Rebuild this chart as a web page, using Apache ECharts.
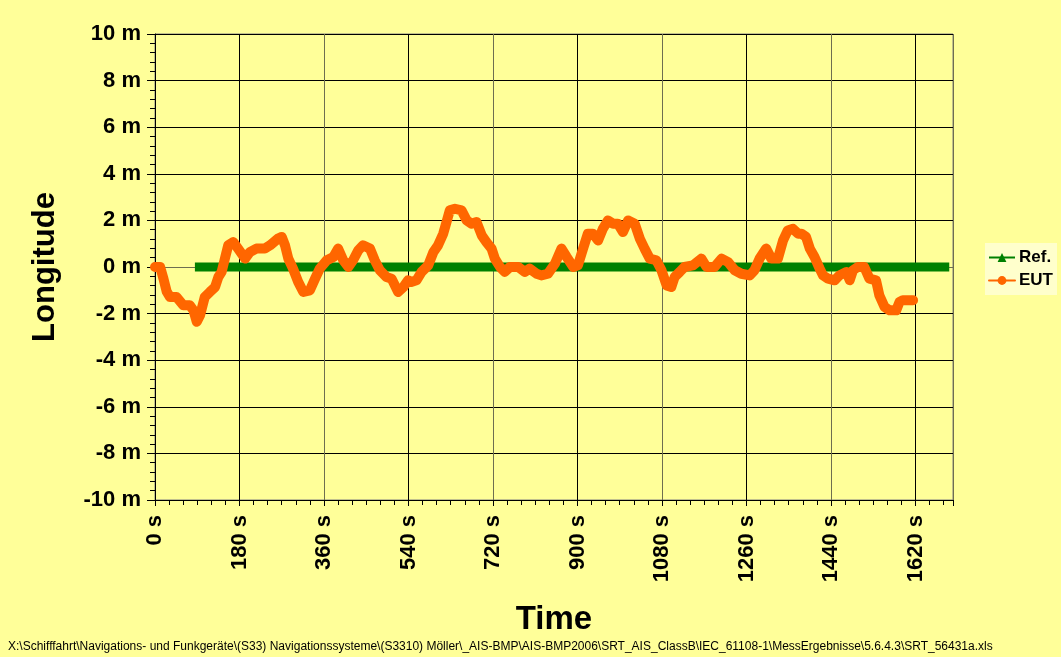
<!DOCTYPE html>
<html>
<head>
<meta charset="utf-8">
<script src="https://cdn.jsdelivr.net/npm/echarts@6/dist/echarts.min.js"></script>
<style>
  html, body { margin: 0; padding: 0; background: #FFFF99; }
  #chart { width: 1061px; height: 657px; }
</style>
</head>
<body>
<div id="chart"></div>
<script>
// Zeitachse in s, Abweichung in m
var refTimes = [85, 1692];
var refValues = [0, 0];

var eutTimes = [0, 11, 18, 25, 32, 46, 60, 74, 82, 89, 96, 106, 117, 128, 135, 142, 149, 156, 167, 177,
  192, 202, 216, 234, 245, 262, 270, 277, 284, 294, 305, 316, 330, 341, 351, 366, 380, 390, 401, 412,
  422, 433, 443, 458, 468, 479, 493, 504, 518, 529, 539, 546, 557, 568, 582, 593, 603, 614, 621, 628,
  639, 653, 664, 674, 685, 696, 706, 717, 724, 735, 745, 756, 774, 788, 798, 813, 823, 837, 852, 866,
  877, 891, 901, 912, 922, 933, 944, 954, 965, 976, 986, 997, 1008, 1022, 1033, 1043, 1054, 1068, 1079, 1090,
  1100, 1107, 1118, 1128, 1146, 1164, 1175, 1192, 1207, 1221, 1235, 1249, 1267, 1277, 1288, 1302, 1313, 1327, 1338, 1348,
  1359, 1370, 1377, 1387, 1395, 1405, 1416, 1423, 1434, 1448, 1458, 1473, 1480, 1487, 1497, 1511, 1522, 1536, 1543, 1554,
  1565, 1579, 1586, 1593, 1615];
var eutValues = [0, 0, -0.5, -1.06, -1.29, -1.29, -1.64, -1.64, -1.86, -2.35, -2.07, -1.29, -1.07, -0.86, -0.43, -0.21, 0.37, 0.93, 1.07, 0.79,
  0.36, 0.64, 0.79, 0.79, 0.93, 1.22, 1.29, 0.93, 0.36, -0.07, -0.64, -1.07, -1.0, -0.5, -0.07, 0.29, 0.43, 0.79, 0.29, 0,
  0.29, 0.71, 0.93, 0.79, 0.29, -0.14, -0.43, -0.5, -1.07, -0.86, -0.57, -0.64, -0.57, -0.21, 0.07, 0.64, 0.93, 1.43, 1.93, 2.43,
  2.5, 2.43, 2.0, 1.86, 1.93, 1.36, 1.07, 0.79, 0.36, 0, -0.21, 0, 0, -0.21, -0.07, -0.29, -0.36, -0.29, 0.14, 0.79,
  0.43, 0, 0.07, 0.79, 1.43, 1.43, 1.14, 1.64, 2.0, 1.86, 1.86, 1.5, 2.0, 1.86, 1.21, 0.79, 0.36, 0.29, -0.14, -0.79,
  -0.86, -0.43, -0.21, 0, 0.07, 0.36, 0, 0, 0.36, 0.21, -0.14, -0.29, -0.36, -0.14, 0.36, 0.79, 0.36, 0.36, 1.14, 1.57,
  1.64, 1.43, 1.43, 1.29, 0.79, 0.43, -0.07, -0.36, -0.5, -0.57, -0.36, -0.21, -0.57, -0.14, 0, 0, -0.5, -0.57, -1.21, -1.71,
  -1.86, -1.86, -1.5, -1.43, -1.43];

var yTicks = [-10, -8, -6, -4, -2, 0, 2, 4, 6, 8, 10];
var filePath = 'X:\\Schifffahrt\\Navigations- und Funkgeräte\\(S33) Navigationssysteme\\(S3310) Möller\\_AIS-BMP\\AIS-BMP2006\\SRT_AIS_ClassB\\IEC_61108-1\\MessErgebnisse\\5.6.4.3\\SRT_56431a.xls';

function pairs(xs, ys) {
  var out = [];
  for (var i = 0; i < xs.length; i++) out.push([xs[i], ys[i]]);
  return out;
}

var font = '"Liberation Sans", Arial, sans-serif';
var gridGray = '#6e6e50';
var chart = echarts.init(document.getElementById('chart'));

var option = {
  backgroundColor: '#FFFF99',
  animation: false,
  textStyle: { fontFamily: font },
  grid: {
    left: 155, right: 108, top: 34, bottom: 157,
    show: true, borderColor: '#808080', borderWidth: 1, backgroundColor: '#FFFF99'
  },
  legend: {
    orient: 'vertical',
    left: 985, top: 243,
    backgroundColor: '#FFFFCC',
    padding: [6, 4, 6, 3],
    itemGap: 6,
    itemWidth: 26, itemHeight: 11,
    lineStyle: { width: 2 },
    textStyle: { fontFamily: font, fontWeight: 'bold', fontSize: 17, color: '#000', padding: [0, 0, 0, -1] },
    data: ['Ref.', 'EUT']
  },
  xAxis: {
    type: 'value',
    min: 0, max: 1700, interval: 180,
    name: 'Time', nameLocation: 'middle', nameGap: 103,
    nameTextStyle: { fontFamily: font, fontWeight: 'bold', fontSize: 33, color: '#000' },
    axisLine: { onZero: false, lineStyle: { color: '#000', width: 1 } },
    axisTick: { length: 6, lineStyle: { color: '#000' } },
    minorTick: { show: true, splitNumber: 6, length: 5, lineStyle: { color: '#000' } },
    splitLine: { show: true, lineStyle: { color: [gridGray, '#000'], width: 1 } },
    axisLabel: {
      rotate: 90, margin: 15, showMaxLabel: false,
      fontFamily: font, fontWeight: 'bold', fontSize: 22, color: '#000',
      formatter: function (v) { return v % 180 === 0 ? v + ' s' : ''; }
    }
  },
  yAxis: {
    type: 'value',
    min: -10, max: 10, interval: 2,
    name: 'Longitude', nameLocation: 'middle', nameGap: 94, nameRotate: 90,
    nameTextStyle: { fontFamily: font, fontWeight: 'bold', fontSize: 31, color: '#000' },
    axisLine: { onZero: false, lineStyle: { color: '#000', width: 1 } },
    axisTick: { length: 8, lineStyle: { color: '#000' } },
    minorTick: { show: true, splitNumber: 5, length: 5, lineStyle: { color: '#000' } },
    splitLine: {
      show: true,
      lineStyle: { color: yTicks.map(function (t) { return t === 0 ? gridGray : '#000'; }), width: 1 }
    },
    axisLabel: {
      margin: 14,
      fontFamily: font, fontWeight: 'bold', fontSize: 22, color: '#000',
      formatter: function (v) { return v + ' m'; }
    }
  },
  series: [
    {
      name: 'Ref.', type: 'line',
      data: pairs(refTimes, refValues),
      symbol: 'triangle', symbolSize: 11, showSymbol: false,
      color: '#008000',
      lineStyle: { color: '#008000', width: 9 },
      z: 2
    },
    {
      name: 'EUT', type: 'line',
      data: pairs(eutTimes, eutValues),
      symbol: 'circle', symbolSize: 11, showSymbol: false,
      color: '#FF6600',
      lineStyle: { color: '#FF6600', width: 10, cap: 'round', join: 'round' },
      z: 3
    }
  ],
  graphic: [{
    type: 'text', left: 8, top: 641,
    style: { text: filePath, font: '12px ' + font, fill: '#000' }
  }]
};

chart.setOption(option);
</script>
</body>
</html>
